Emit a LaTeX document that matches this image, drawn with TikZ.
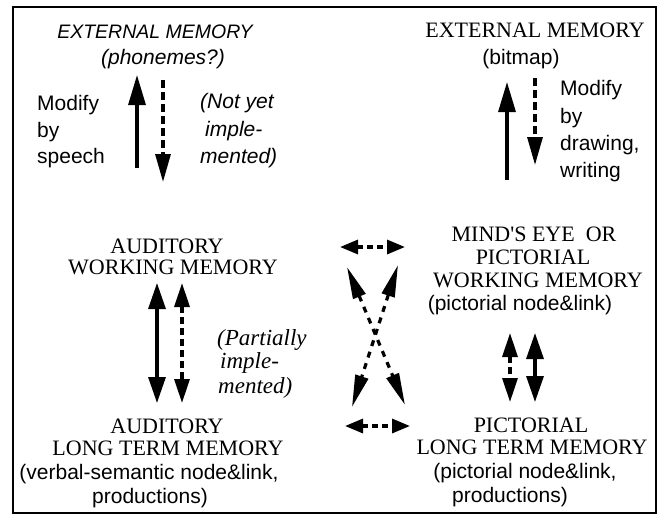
\documentclass[tikz,border=0pt]{standalone}
\usepackage{fontspec}
\setmainfont{Liberation Sans}
\newfontfamily\tms{Liberation Serif}
\usetikzlibrary{arrows.meta}
\begin{document}
\begin{tikzpicture}[x=1pt,y=-1pt,
  txt/.style={inner sep=0pt,anchor=base},
  sans/.style={txt,font=\fontsize{21}{21}\selectfont},
  itsans/.style={txt,font=\itshape\fontsize{21}{21}\selectfont},
  itsanscap/.style={txt,font=\itshape\fontsize{19.5}{19.5}\selectfont},
  ser/.style={txt,font=\tms\fontsize{22}{22}\selectfont},
  itser/.style={txt,font=\tms\itshape\fontsize{23}{23}\selectfont},
  west/.style={anchor=base west},
  solidarr/.style={line width=3.2pt,-{Triangle[length=30pt,width=17pt]}},
  dasharr/.style={line width=3.2pt,dash pattern=on 8pt off 4pt,-{Triangle[length=28pt,width=15pt]}},
  soliddbl/.style={line width=3.2pt,{Triangle[length=26pt,width=17pt]}-{Triangle[length=26pt,width=17pt]}},
  dashdbl/.style={line width=3.2pt,dash pattern=on 7pt off 4pt,{Triangle[length=24pt,width=15pt]}-{Triangle[length=24pt,width=15pt]}},
  hdbl/.style={line width=3.2pt,dash pattern=on 6pt off 4pt,{Triangle[length=18pt,width=14pt]}-{Triangle[length=18pt,width=14pt]}},
  xdbl/.style={line width=3.2pt,dash pattern=on 6pt off 6pt,{Triangle[length=32pt,width=13pt]}-{Triangle[length=32pt,width=13pt]}}
]
\useasboundingbox (0,0) rectangle (658,515);
\draw[line width=2.8pt] (13,7) rectangle (656,513);

% left top
\node[itsanscap] (extL) at (155,38) {EXTERNAL MEMORY};
\node[itsans] (phon) at (163,64) {(phonemes?)};
\node[sans,west] (modL1) at (37,110) {Modify};
\node[sans,west] (modL2) at (37,137) {by};
\node[sans,west] (modL3) at (37,163) {speech};
\node[itsans,west] (nyt1) at (200,108) {(Not yet};
\node[itsans,west] (nyt2) at (205,136) {imple-};
\node[itsans,west] (nyt3) at (200,163) {mented)};

% right top
\node[ser] (extR) at (535,37) {EXTERNAL MEMORY};
\node[sans] (bitmap) at (521,64) {(bitmap)};
\node[sans,west] (modR1) at (560,95) {Modify};
\node[sans,west] (modR2) at (560,123) {by};
\node[sans,west] (modR3) at (560,150) {drawing,};
\node[sans,west] (modR4) at (560,177) {writing};

% left middle
\node[ser] (awm1) at (167,253) {AUDITORY};
\node[ser] (awm2) at (173,274) {WORKING MEMORY};
\node[itser,west] (part1) at (217,345) {(Partially};
\node[itser,west] (part2) at (220,368) {imple-};
\node[itser,west] (part3) at (218,393) {mented)};

% left bottom
\node[ser] (alt1) at (167,433) {AUDITORY};
\node[ser] (alt2) at (168,455) {LONG TERM MEMORY};
\node[sans] (alt3) at (149,479) {(verbal-semantic node\&link,};
\node[sans] (alt4) at (150,503) {productions)};

% right middle
\node[ser] (pwm1) at (534,241) {MIND'S EYE\ \ OR};
\node[ser] (pwm2) at (533,264) {PICTORIAL};
\node[ser] (pwm3) at (538,287) {WORKING MEMORY};
\node[sans] (pwm4) at (520,310) {(pictorial node\&link)};

% right bottom
\node[ser] (plt1) at (531,432) {PICTORIAL};
\node[ser] (plt2) at (532,454) {LONG TERM MEMORY};
\node[sans] (plt3) at (525,478) {(pictorial node\&link,};
\node[sans] (plt4) at (510,502) {productions)};

% arrow end points
\coordinate (lu0) at (137,168); \coordinate (lu1) at (137,75);
\coordinate (ld0) at (163,80);  \coordinate (ld1) at (163,182);
\coordinate (ru0) at (507,180); \coordinate (ru1) at (507,82);
\coordinate (rd0) at (535,78);  \coordinate (rd1) at (535,165);
\coordinate (lms0) at (157,283); \coordinate (lms1) at (157,403);
\coordinate (lmd0) at (182,283); \coordinate (lmd1) at (182,403);
\coordinate (rmd0) at (510,333); \coordinate (rmd1) at (510,402);
\coordinate (rms0) at (535,333); \coordinate (rms1) at (535,402);
\coordinate (ht0) at (340,247); \coordinate (ht1) at (405,247);
\coordinate (hb0) at (345,426); \coordinate (hb1) at (410,426);
\coordinate (xa0) at (347,267); \coordinate (xa1) at (405,405);
\coordinate (xb0) at (398,265); \coordinate (xb1) at (352,407);

\draw[solidarr] (lu0) -- (lu1);
\draw[dasharr] (ld0) -- (ld1);
\draw[solidarr] (ru0) -- (ru1);
\draw[dasharr] (rd0) -- (rd1);
\draw[soliddbl] (lms0) -- (lms1);
\draw[dashdbl] (lmd0) -- (lmd1);
\draw[dashdbl] (rmd0) -- (rmd1);
\draw[soliddbl] (rms0) -- (rms1);
\draw[hdbl] (ht0) -- (ht1);
\draw[hdbl] (hb0) -- (hb1);
\draw[xdbl] (xa0) -- (xa1);
\draw[xdbl] (xb0) -- (xb1);
\end{tikzpicture}
\end{document}
